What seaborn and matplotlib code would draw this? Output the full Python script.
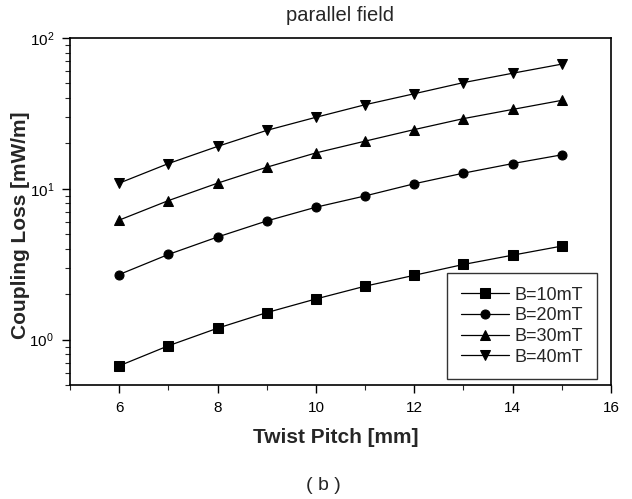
import seaborn as sns
import pandas as pd
import numpy as np
import matplotlib
matplotlib.use("Agg")
import matplotlib.pyplot as plt
from matplotlib.ticker import LogLocator, MultipleLocator, NullFormatter

# data
pitch = [6, 7, 8, 9, 10, 11, 12, 13, 14, 15]
loss_10 = [0.67, 0.91, 1.19, 1.51, 1.86, 2.26, 2.67, 3.15, 3.63, 4.17]
loss_20 = [2.7, 3.67, 4.79, 6.12, 7.55, 8.97, 10.8, 12.7, 14.7, 16.8]
loss_30 = [6.2, 8.35, 10.9, 13.9, 17.3, 20.7, 24.7, 29.2, 33.6, 38.6]
loss_40 = [10.9, 14.7, 19.1, 24.4, 29.8, 36.1, 42.7, 50.6, 58.4, 67.1]
labels = ["B=10mT", "B=20mT", "B=30mT", "B=40mT"]

df = pd.concat([
    pd.DataFrame({"pitch": pitch, "loss": v, "field": lab})
    for v, lab in zip([loss_10, loss_20, loss_30, loss_40], labels)
])

sns.set_style("ticks")
plt.rcParams['font.family'] = ['Liberation Sans', 'DejaVu Sans']
plt.rcParams['mathtext.fontset'] = 'custom'
plt.rcParams['mathtext.rm'] = 'Liberation Sans'

fig = plt.figure(figsize=(6.32, 4.99), dpi=100)
ax = fig.add_axes([70 / 632, 1 - 385 / 499, 541 / 632, 347 / 499])

sns.lineplot(data=df, x="pitch", y="loss", hue="field", style="field",
             markers=["s", "o", "^", "v"], dashes=False,
             palette=["black"] * 4, markersize=6.5, linewidth=0.9,
             markeredgecolor="black", ax=ax)

ax.set_yscale("log")
ax.set_xlim(5, 16)
ax.set_ylim(0.5, 100)
ax.xaxis.set_major_locator(MultipleLocator(2))
ax.xaxis.set_minor_locator(MultipleLocator(1))
ax.yaxis.set_major_locator(LogLocator(base=10))
ax.yaxis.set_minor_locator(LogLocator(base=10, subs=np.arange(2, 10)))
ax.yaxis.set_minor_formatter(NullFormatter())

for s in ax.spines.values():
    s.set_linewidth(1.2)
    s.set_color("black")
ax.tick_params(which="major", direction="out", length=5.5, width=1.0,
               labelsize=11, colors="black", pad=6)
ax.tick_params(which="minor", direction="out", length=3.5, width=0.8)

ax.set_xlabel("Twist Pitch [mm]", fontsize=15, fontweight="bold")
ax.xaxis.set_label_coords(0.492, -0.124)
ax.set_ylabel("Coupling Loss [mW/m]", fontsize=15, fontweight="bold")
ax.yaxis.set_label_coords(-0.074, 0.461)
ax.set_title("parallel field", fontsize=14.5, pad=12)

leg = ax.legend(loc="lower right", bbox_to_anchor=(0.974, 0.017), fontsize=13,
                handlelength=2.7, frameon=True, fancybox=False, edgecolor="black",
                borderpad=0.75, labelspacing=0.2, handletextpad=0.3,
                borderaxespad=0)
leg.get_frame().set_linewidth(1.0)

fig.text(323 / 632, 1 - 486 / 499, "( b )", fontsize=14, ha="center", va="center")

fig.savefig("out.png", dpi=100)
